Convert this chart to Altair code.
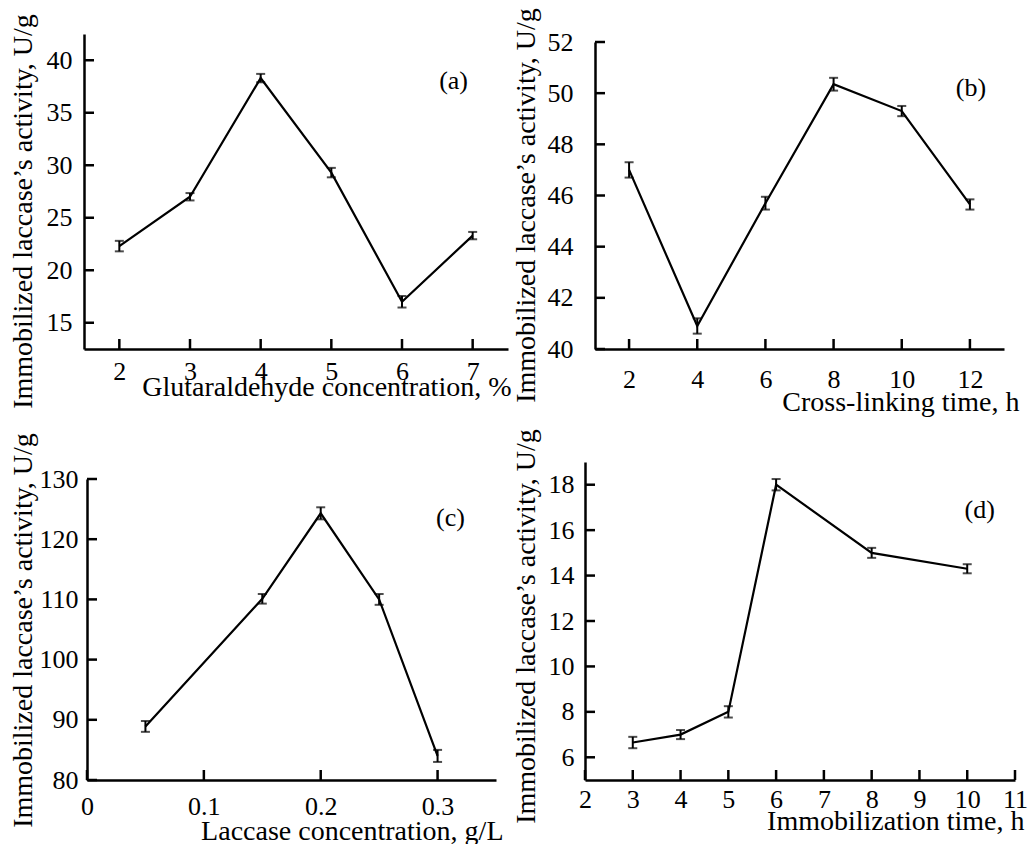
import altair as alt
import pandas as pd

FONT = "Liberation Serif"
LABEL_FS = 26
TITLE_FS = 28
YTITLE = "Immobilized laccase\u2019s activity, U/g"

# ---------------- data ----------------
a_x = [2, 3, 4, 5, 6, 7]
a_y = [22.3, 27.0, 38.3, 29.3, 17.0, 23.3]
a_err = [0.5, 0.35, 0.4, 0.45, 0.55, 0.35]
a_xticks = [2, 3, 4, 5, 6, 7]
a_yticks = [15, 20, 25, 30, 35, 40]

b_x = [2, 4, 6, 8, 10, 12]
b_y = [47.0, 40.9, 45.7, 50.35, 49.3, 45.65]
b_err = [0.3, 0.3, 0.25, 0.25, 0.2, 0.2]
b_xticks = [2, 4, 6, 8, 10, 12]
b_yticks = [40, 42, 44, 46, 48, 50, 52]

c_x = [0.05, 0.15, 0.2, 0.25, 0.3]
c_y = [88.9, 110.1, 124.3, 110.0, 84.0]
c_err = [0.9, 0.8, 1.0, 0.9, 1.0]
c_xticks = [0, 0.1, 0.2, 0.3]
c_yticks = [80, 90, 100, 110, 120, 130]

d_x = [3, 4, 5, 6, 8, 10]
d_y = [6.65, 7.0, 8.0, 18.0, 15.0, 14.3]
d_err = [0.25, 0.2, 0.25, 0.25, 0.22, 0.2]
d_xticks = [2, 3, 4, 5, 6, 7, 8, 9, 10, 11]
d_yticks = [6, 8, 10, 12, 14, 16, 18]


def panel(xs, ys, errs, xticks, yticks, xdom, ydom, width, height, xrange, yrange,
          xtitle, label, label_xy, xfmt, xlabpad, ylabpad, xtitle_xy, ytitle_xy,
          yoffset=0):
    df = pd.DataFrame({"x": xs, "y": ys,
                       "lo": [v - e for v, e in zip(ys, errs)],
                       "hi": [v + e for v, e in zip(ys, errs)]})
    xsc = alt.Scale(domain=xdom, range=xrange, nice=False, zero=False)
    ysc = alt.Scale(domain=ydom, range=yrange, nice=False, zero=False)
    xaxis = alt.Axis(values=xticks, format=xfmt, ticks=False, tickSize=0, grid=False,
                     domainColor="black", domainWidth=2.5, labelFont=FONT,
                     labelFontSize=LABEL_FS, labelColor="black", labelPadding=xlabpad,
                     labelFlush=False, labelOverlap=False, title=xtitle, titleFont=FONT,
                     titleFontSize=TITLE_FS, titleFontWeight="normal", titleColor="black",
                     titleX=xtitle_xy[0], titleY=xtitle_xy[1], titleAlign="right",
                     titleBaseline="middle")
    yaxis = alt.Axis(values=yticks, ticks=False, tickSize=0, grid=False,
                     domainColor="black", domainWidth=2.5, labelFont=FONT,
                     labelFontSize=LABEL_FS, labelColor="black", labelPadding=ylabpad,
                     labelFlush=False, labelOverlap=False, title=YTITLE, titleFont=FONT,
                     titleFontSize=TITLE_FS, titleFontWeight="normal", titleColor="black",
                     titleX=ytitle_xy[0], titleY=ytitle_xy[1], titleAlign="center",
                     titleBaseline="middle", titleAngle=270, offset=yoffset)
    X = lambda f: alt.X(f, type="quantitative", scale=xsc, axis=xaxis)
    Y = lambda f: alt.Y(f, type="quantitative", scale=ysc, axis=yaxis)

    base = alt.Chart(df)
    line = base.mark_line(color="black", strokeWidth=2.2).encode(x=X("x"), y=Y("y"))
    err = base.mark_rule(color="black", strokeWidth=2).encode(x=X("x"), y=Y("lo"), y2="hi")
    cap_lo = base.mark_tick(color="black", orient="horizontal", size=9, thickness=2).encode(x=X("x"), y=Y("lo"))
    cap_hi = base.mark_tick(color="black", orient="horizontal", size=9, thickness=2).encode(x=X("x"), y=Y("hi"))

    x0 = xrange[0]
    xt = alt.Chart(pd.DataFrame({"t": xticks})).mark_rule(color="black", strokeWidth=2.5).encode(
        x=X("t"), y=alt.value(height), y2=alt.value(height - 10))
    yt = alt.Chart(pd.DataFrame({"t": yticks})).mark_rule(color="black", strokeWidth=2.5).encode(
        y=Y("t"), x=alt.value(x0), x2=alt.value(x0 + 10))
    lab = alt.Chart(pd.DataFrame({"x": [label_xy[0]], "y": [label_xy[1]], "t": [label]})).mark_text(
        font=FONT, fontSize=LABEL_FS, color="black", align="center", baseline="middle").encode(
        x=X("x"), y=Y("y"), text="t:N")
    return alt.layer(xt, yt, line, err, cap_lo, cap_hi, lab).properties(width=width, height=height)


H1 = 315
H2 = 318

pa = panel(a_x, a_y, a_err, a_xticks, a_yticks, [1.5, 7.5], [12.5, 42.5], 424, H1,
           [0, 424], [H1, 0], "Glutaraldehyde concentration, %", "(a)", (6.73, 38.0),
           "d", 9, 12, (427, 38), (-61, 177))
pb = panel(b_x, b_y, b_err, b_xticks, b_yticks, [1, 13], [40, 52], 419, H1,
           [10, 419], [H1, 8], "Cross-linking time, h", "(b)", (12.03, 50.2),
           "d", 17, 22, (434, 53), (-69, 171), yoffset=-10)
pc = panel(c_x, c_y, c_err, c_xticks, c_yticks, [0, 0.35], [80, 130], 412, H2,
           [3, 412], [H2, 17], "Laccase concentration, g/L", "(c)", (0.311, 123.6),
           ".1~f", 13, 9, (419, 51), (-64, 168), yoffset=-3)
pd_ = panel(d_x, d_y, d_err, d_xticks, d_yticks, [2, 11], [5, 19], 430, H2,
            [0, 430], [H2, 0], "Immobilization time, h", "(d)", (10.26, 16.87),
            "d", 6, 11, (439, 41), (-59, 164))

chart = alt.concat(pa, pb, pc, pd_, columns=2, bounds="flush",
                   spacing=alt.RowColnumber(row=113, column=77)).configure_view(
    stroke=None).properties(padding={"left": 8, "top": 7, "right": 5, "bottom": 5},
                            background="white")

chart.save("out.html", embed_options={"renderer": "svg", "actions": False})
